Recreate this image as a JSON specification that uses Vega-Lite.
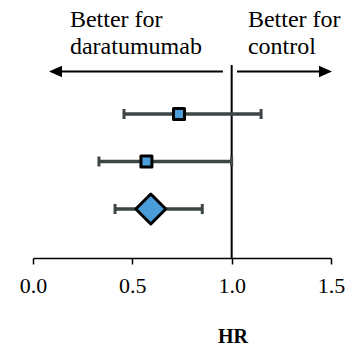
{
  "$schema": "https://vega.github.io/schema/vega-lite/v6.json",
  "width": 298,
  "height": 258,
  "autosize": {"type": "none"},
  "padding": {"left": 33, "right": 27, "top": 0, "bottom": 88},
  "background": "white",
  "config": {"view": {"stroke": null}, "font": "Times New Roman, Liberation Serif, serif"},
  "datasets": {
    "est": [
      {"study": "Study 1", "row": 1, "hr": 0.735, "lo": 0.458, "hi": 1.148, "kind": "study"},
      {"study": "Study 2", "row": 2, "hr": 0.571, "lo": 0.332, "hi": 1.0, "kind": "study"},
      {"study": "Pooled", "row": 3, "hr": 0.593, "lo": 0.413, "hi": 0.852, "kind": "pooled"}
    ],
    "ref": [{"x": 1.0, "top": -0.032, "bottom": 4.032}],
    "arrows": [
      {"dir": "left", "from": 0.956, "to": 0.11, "tip": 0.0805, "y": 0.105},
      {"dir": "right", "from": 1.027, "to": 1.47, "tip": 1.505, "y": 0.105}
    ],
    "labels": [
      {"text": "Better for\ndaratumumab", "x": 0.186, "y": -0.832},
      {"text": "Better for\ncontrol", "x": 1.082, "y": -0.832}
    ]
  },
  "layer": [
    {
      "data": {"name": "ref"},
      "mark": {"type": "rule", "color": "black", "strokeWidth": 2},
      "encoding": {
        "x": {"field": "x", "type": "quantitative", "scale": {"domain": [0, 1.5], "nice": false},
          "axis": {
            "values": [0, 0.5, 1.0, 1.5], "format": ".1f", "grid": false,
            "domainColor": "black", "domainWidth": 1.5, "tickColor": "black", "tickWidth": 1.5, "tickSize": 6,
            "labelFont": "Times New Roman, Liberation Serif, serif", "labelFontSize": 22, "labelColor": "black", "labelPadding": 11,
            "labelFlush": false,
            "title": "HR", "titleFont": "Times New Roman, Liberation Serif, serif", "titleFontSize": 20, "titleFontWeight": "bold",
            "titleColor": "black", "titlePadding": 30, "titleX": 199.5, "titleAlign": "center"
          }},
        "y": {"field": "top", "type": "quantitative", "scale": {"domain": [-1.4, 4.032], "nice": false, "zero": false, "reverse": true}, "axis": null},
        "y2": {"field": "bottom"}
      }
    },
    {
      "data": {"name": "arrows"},
      "mark": {"type": "rule", "color": "black", "strokeWidth": 1.8},
      "encoding": {
        "x": {"field": "from", "type": "quantitative"},
        "x2": {"field": "to"},
        "y": {"field": "y", "type": "quantitative"}
      }
    },
    {
      "data": {"name": "arrows"},
      "transform": [{"filter": "datum.dir === 'left'"}],
      "mark": {"type": "point", "shape": "M 0 0 L 2 -0.9 L 2 0.9 Z", "size": 169, "filled": true, "color": "black", "opacity": 1},
      "encoding": {
        "x": {"field": "tip", "type": "quantitative"},
        "y": {"field": "y", "type": "quantitative"}
      }
    },
    {
      "data": {"name": "arrows"},
      "transform": [{"filter": "datum.dir === 'right'"}],
      "mark": {"type": "point", "shape": "M 0 0 L -2 -0.9 L -2 0.9 Z", "size": 169, "filled": true, "color": "black", "opacity": 1},
      "encoding": {
        "x": {"field": "tip", "type": "quantitative"},
        "y": {"field": "y", "type": "quantitative"}
      }
    },
    {
      "data": {"name": "labels"},
      "mark": {"type": "text", "align": "left", "baseline": "alphabetic", "font": "Times New Roman, Liberation Serif, serif", "fontSize": 24, "lineHeight": 27, "lineBreak": "\n", "color": "black"},
      "encoding": {
        "x": {"field": "x", "type": "quantitative"},
        "y": {"field": "y", "type": "quantitative"},
        "text": {"field": "text"}
      }
    },
    {
      "data": {"name": "est"},
      "mark": {"type": "rule", "color": "#3d4546", "strokeWidth": 3.5},
      "encoding": {
        "x": {"field": "lo", "type": "quantitative"},
        "x2": {"field": "hi"},
        "y": {"field": "row", "type": "quantitative"}
      }
    },
    {
      "data": {"name": "est"},
      "mark": {"type": "tick", "orient": "vertical", "color": "#3d4546", "thickness": 3, "size": 10, "opacity": 1},
      "encoding": {
        "x": {"field": "lo", "type": "quantitative"},
        "y": {"field": "row", "type": "quantitative"}
      }
    },
    {
      "data": {"name": "est"},
      "mark": {"type": "tick", "orient": "vertical", "color": "#3d4546", "thickness": 3, "size": 10, "opacity": 1},
      "encoding": {
        "x": {"field": "hi", "type": "quantitative"},
        "y": {"field": "row", "type": "quantitative"}
      }
    },
    {
      "data": {"name": "est"},
      "mark": {"type": "point", "filled": true, "fill": "#4a9dd8", "stroke": "black", "strokeWidth": 3, "opacity": 1, "strokeJoin": "round"},
      "encoding": {
        "x": {"field": "hr", "type": "quantitative"},
        "y": {"field": "row", "type": "quantitative"},
        "shape": {"field": "kind", "type": "nominal", "scale": {"domain": ["study", "pooled"], "range": ["square", "diamond"]}, "legend": null},
        "size": {"field": "kind", "type": "nominal", "scale": {"domain": ["study", "pooled"], "range": [121, 900]}, "legend": null}
      }
    }
  ]
}
